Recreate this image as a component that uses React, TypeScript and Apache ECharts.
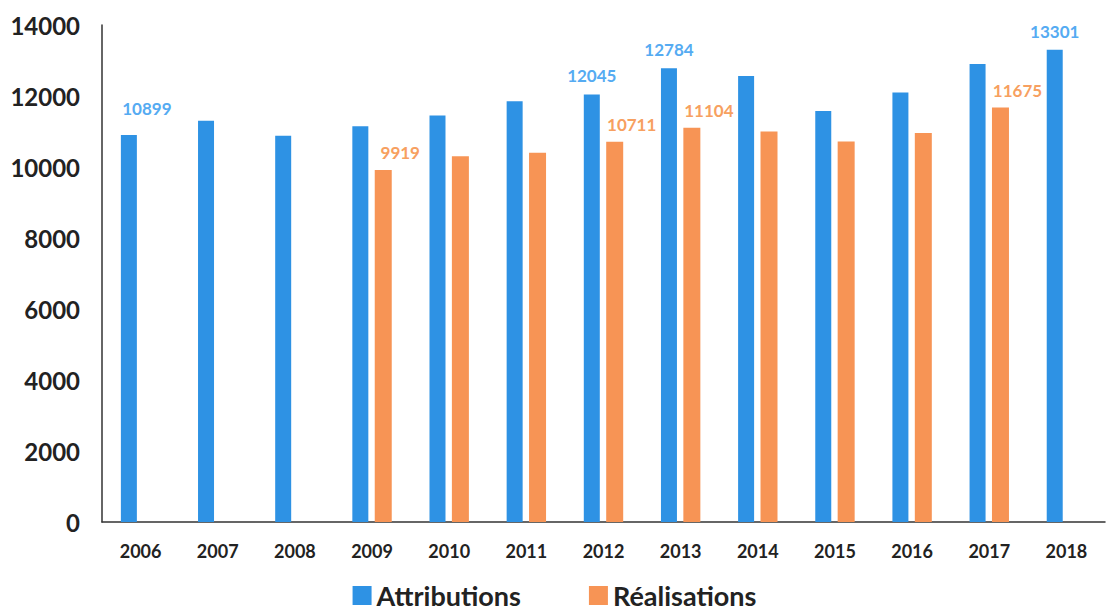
import React, { useEffect, useRef } from "react";
import * as echarts from "echarts";

const years = ["2006", "2007", "2008", "2009", "2010", "2011", "2012", "2013", "2014", "2015", "2016", "2017", "2018"];
const attributions = [10899, 11300, 10880, 11150, 11450, 11850, 12045, 12784, 12560, 11580, 12100, 12900, 13301];
const realisations: (number | null)[] = [null, null, null, 9919, 10300, 10400, 10711, 11104, 11000, 10720, 10960, 11675, null];
const attrLabelYears = ["2006", "2012", "2013", "2018"];
const realLabelYears = ["2009", "2012", "2013", "2017"];
const yTicks = { min: 0, max: 14000, interval: 2000 };

const FONT = "Lato, 'Open Sans', sans-serif";
const BLUE = "#2E92E4";
const ORANGE = "#F79455";
const BLUE_LABEL = "#55ABF2";
const ORANGE_LABEL = "#F7A060";

export default function App() {
  const ref = useRef<HTMLDivElement>(null);
  useEffect(() => {
    if (!ref.current) return;
    const chart = echarts.init(ref.current, null, { renderer: "svg" });
    const attrData = attributions.map((v, i) => ({
      value: v,
      label: {
        show: attrLabelYears.includes(years[i]),
        offset: i === 0 ? [18, -8] : [0, 0],
      },
    }));
    const realData = realisations.map((v, i) => ({
      value: v,
      label: { show: realLabelYears.includes(years[i]) },
    }));
    chart.setOption({
      animation: false,
      backgroundColor: "#ffffff",
      textStyle: { fontFamily: FONT },
      grid: { left: 102, right: 4, top: 25, bottom: 92, containLabel: false },
      legend: {
        show: true,
        bottom: 0,
        left: "center",
        itemWidth: 19,
        itemHeight: 19,
        itemGap: 68,
        icon: "rect",
        textStyle: { fontSize: 27, fontWeight: "bold", color: "#222", fontFamily: FONT },
        data: ["Attributions", "Réalisations"],
      },
      xAxis: {
        type: "category",
        data: years,
        axisLine: { show: true, lineStyle: { color: "#333", width: 1.5 } },
        axisTick: { show: false },
        axisLabel: { fontSize: 18, fontWeight: "bold", color: "#222", margin: 20, fontFamily: FONT },
      },
      yAxis: {
        type: "value",
        min: yTicks.min,
        max: yTicks.max,
        interval: yTicks.interval,
        axisLine: { show: true, lineStyle: { color: "#333", width: 1.5 } },
        axisTick: { show: false },
        splitLine: { show: false },
        axisLabel: {
          fontSize: 24,
          fontWeight: "bold",
          color: "#222",
          margin: 22,
          fontFamily: FONT,
          formatter: (v: number) => String(v),
        },
      },
      series: [
        {
          name: "Attributions",
          type: "bar",
          data: attrData,
          barWidth: 16,
          barGap: "40%",
          itemStyle: { color: BLUE },
          label: {
            position: "top",
            distance: 10,
            fontSize: 17,
            fontWeight: "bold",
            color: BLUE_LABEL,
            fontFamily: FONT,
          },
        },
        {
          name: "Réalisations",
          type: "bar",
          data: realData,
          barWidth: 17,
          itemStyle: { color: ORANGE },
          label: {
            position: "top",
            distance: 9,
            offset: [17, 0],
            fontSize: 17,
            fontWeight: "bold",
            color: ORANGE_LABEL,
            fontFamily: FONT,
          },
        },
      ],
    });
    return () => chart.dispose();
  }, []);
  return <div ref={ref} style={{ position: "absolute", left: 0, top: 0, width: 1109, height: 614 }} />;
}
